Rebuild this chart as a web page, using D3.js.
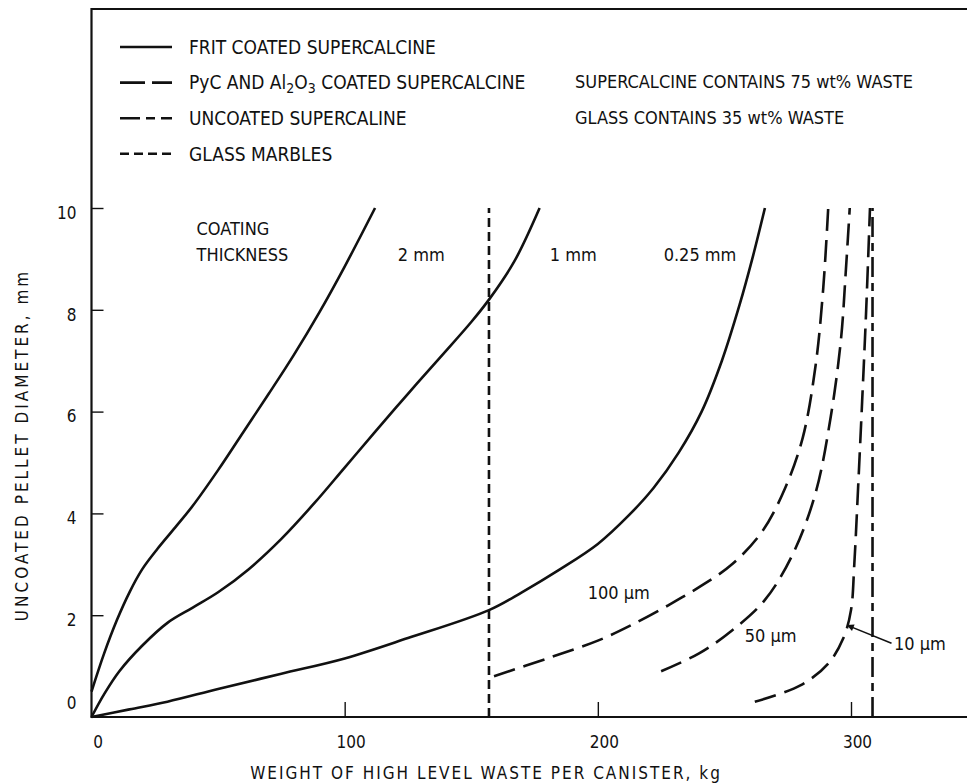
<!DOCTYPE html>
<html>
<head>
<meta charset="utf-8">
<script src="https://cdn.jsdelivr.net/npm/d3@7"></script>
<style>
  body { margin: 0; background: #fff; }
  svg text {
    font-family: "Liberation Sans Narrow", "DejaVu Sans Condensed", "Roboto Condensed", "Arial Narrow", sans-serif;
    fill: #111;
  }
</style>
</head>
<body>
<svg id="chart" width="967" height="784"></svg>
<script>
// ---- data (kg of waste, pellet diameter mm) ----
var xTicks = [0, 100, 200, 300];
var yTicks = [0, 2, 4, 6, 8, 10];

// frit coated supercalcine, by coating thickness
var frit2mm = [[0, 0.5], [5, 1.25], [10, 1.9], [15, 2.45], [20, 2.9], [26, 3.3], [33, 3.72], [40, 4.15],
  [50, 4.85], [60, 5.6], [70, 6.35], [80, 7.12], [90, 7.95], [100, 8.85], [112, 10]];
var frit1mm = [[0, 0], [5, 0.45], [11, 0.9], [20, 1.4], [30, 1.85], [40, 2.15], [50, 2.45], [62, 2.9],
  [75, 3.5], [88, 4.2], [100, 4.9], [112, 5.6], [125, 6.35], [138, 7.08], [150, 7.76], [157, 8.2],
  [167, 8.95], [177, 10]];
var frit025mm = [[0, 0], [15, 0.15], [30, 0.3], [50, 0.55], [75, 0.85], [100, 1.15], [125, 1.55],
  [157, 2.1], [170, 2.45], [185, 2.9], [200, 3.4], [212, 3.95], [222, 4.5], [232, 5.2], [241, 6.0],
  [249, 7.0], [256, 8.1], [261, 9.0], [266, 10]];

// PyC and Al2O3 coated supercalcine
var pyc100um = [[159, 0.8], [180, 1.15], [200, 1.5], [213, 1.8], [228, 2.2], [240, 2.55], [253, 3.0],
  [265, 3.65], [274, 4.5], [281, 5.5], [286, 6.9], [289, 8.4], [291, 10]];
var pyc50um = [[225, 0.9], [240, 1.25], [253, 1.7], [266, 2.3], [277, 3.2], [286, 4.4], [292, 5.9],
  [296, 7.4], [298, 8.8], [299.5, 10]];
var pyc10um = [[262, 0.3], [280, 0.62], [291, 1.05], [297, 1.55], [300, 2.1], [301.3, 3.0], [302.8, 4.5],
  [304.4, 6.2], [306, 8.0], [307.5, 10]];

// uncoated supercalcine and glass marbles (single values)
var uncoated = [[308.5, 0], [308.5, 10]];
var glass = [[157, 0], [157, 10]];

var legendNames = ["FRIT COATED SUPERCALCINE", "PyC AND Al2O3 COATED SUPERCALCINE", "UNCOATED SUPERCALINE", "GLASS MARBLES"];
var notes = ["SUPERCALCINE CONTAINS 75 wt% WASTE", "GLASS CONTAINS 35 wt% WASTE"];

// curve labels in data units
var curveLabels = [
  { t: "COATING", v: 41.5, d: 9.6 },
  { t: "THICKNESS", v: 41.5, d: 9.08 },
  { t: "2 mm", v: 121, d: 9.08 },
  { t: "1 mm", v: 181, d: 9.08 },
  { t: "0.25 mm", v: 226, d: 9.08 },
  { t: "100 \u00b5m", v: 196, d: 2.45 },
  { t: "50 \u00b5m", v: 258, d: 1.6 },
  { t: "10 \u00b5m", v: 317, d: 1.45 }
];

// ---- drawing ----
var svg = d3.select("#chart");
var W = 967;

var x = d3.scaleLinear().domain([0, 300]).range([91.5, 851]);
var y = d3.scaleLinear().domain([0, 10]).range([717, 208]);

var styles = {
  solid: null,
  pyc: "22,9",
  uncoated: "20,6,8,6",
  glass: "9,5"
};

// frame: left, top, bottom
svg.append("path")
  .attr("d", "M" + W + ",9 H" + x(0) + " V" + y(0) + " H" + W)
  .attr("fill", "none")
  .attr("stroke", "#111")
  .attr("stroke-width", 2.2);

// axes
var gx = svg.append("g")
  .attr("transform", "translate(0," + y(0) + ")")
  .call(d3.axisBottom(x).tickValues(xTicks).tickSize(-15).tickPadding(19).tickFormat(d3.format("d")));
gx.attr("font-family", null).attr("font-size", null);
gx.select(".domain").remove();
gx.selectAll(".tick line").attr("stroke", "#111").attr("stroke-width", 1.4)
  .filter(function(d) { return d === 0; }).remove();
gx.selectAll(".tick text").attr("dx", 6).style("font-size", "17px");

var gy = svg.append("g")
  .attr("transform", "translate(" + x(0) + ",0)")
  .call(d3.axisLeft(y).tickValues(yTicks).tickSize(-12).tickPadding(15).tickFormat(d3.format("d")));
gy.attr("font-family", null).attr("font-size", null);
gy.select(".domain").remove();
gy.selectAll(".tick line").attr("stroke", "#111").attr("stroke-width", 1.4)
  .filter(function(d) { return d === 0; }).remove();
gy.selectAll(".tick text")
  .style("font-size", "17px")
  .attr("dy", function(d) { return d === 0 ? "-0.5em" : "0.6em"; });

// axis titles
svg.append("text")
  .attr("x", 486).attr("y", 779)
  .attr("text-anchor", "middle")
  .style("font-size", "17px")
  .style("letter-spacing", "2px")
  .text("WEIGHT OF HIGH LEVEL WASTE PER CANISTER,  kg");

svg.append("text")
  .attr("transform", "translate(28,445) rotate(-90)")
  .attr("text-anchor", "middle")
  .style("font-size", "17px")
  .style("letter-spacing", "3px")
  .text("UNCOATED PELLET DIAMETER,  mm");

// curves
var line = d3.line()
  .x(function(d) { return x(d[0]); })
  .y(function(d) { return y(d[1]); })
  .curve(d3.curveCatmullRom.alpha(0.5));

var series = [
  { data: frit2mm, dash: styles.solid },
  { data: frit1mm, dash: styles.solid },
  { data: frit025mm, dash: styles.solid },
  { data: pyc100um, dash: styles.pyc },
  { data: pyc50um, dash: styles.pyc },
  { data: pyc10um, dash: styles.pyc },
  { data: uncoated, dash: styles.uncoated },
  { data: glass, dash: styles.glass }
];

svg.append("g").selectAll("path")
  .data(series)
  .enter()
  .append("path")
  .attr("d", function(d) { return line(d.data); })
  .attr("fill", "none")
  .attr("stroke", "#111")
  .attr("stroke-width", 2.6)
  .attr("stroke-dasharray", function(d) { return d.dash; });

// curve labels
svg.append("g").selectAll("text")
  .data(curveLabels)
  .enter()
  .append("text")
  .attr("x", function(d) { return x(d.v); })
  .attr("y", function(d) { return y(d.d); })
  .attr("dy", "0.36em")
  .style("font-size", "18px")
  .text(function(d) { return d.t; });

// arrow to the 10 um curve
svg.append("defs").append("marker")
  .attr("id", "arr")
  .attr("viewBox", "0 0 10 10")
  .attr("refX", 9).attr("refY", 5)
  .attr("markerWidth", 8).attr("markerHeight", 7)
  .attr("markerUnits", "userSpaceOnUse")
  .attr("orient", "auto")
  .append("path").attr("d", "M0,0 L10,5 L0,10 z").attr("fill", "#111");

svg.append("line")
  .attr("x1", x(316)).attr("y1", y(1.45))
  .attr("x2", x(298.6)).attr("y2", y(1.8))
  .attr("stroke", "#111").attr("stroke-width", 1.6)
  .attr("marker-end", "url(#arr)");

// legend
var legendDash = [styles.solid, "25,7,20", "20,6,9,6,11", "9,5,9,5,9,5,9"];
var legend = svg.append("g");
legendNames.forEach(function(name, i) {
  var ly = 47 + i * 35.6;
  legend.append("line")
    .attr("x1", 120).attr("x2", 172)
    .attr("y1", ly).attr("y2", ly)
    .attr("stroke", "#111").attr("stroke-width", 2.6)
    .attr("stroke-dasharray", legendDash[i]);
  var t = legend.append("text")
    .attr("x", 189).attr("y", ly).attr("dy", "0.36em")
    .style("font-size", "19px");
  if (name.indexOf("Al2O3") >= 0) {
    t.append("tspan").text("PyC AND Al");
    t.append("tspan").attr("dy", 4).style("font-size", "14px").text("2");
    t.append("tspan").attr("dy", -4).text("O");
    t.append("tspan").attr("dy", 4).style("font-size", "14px").text("3");
    t.append("tspan").attr("dy", -4).text(" COATED SUPERCALCINE");
  } else {
    t.text(name);
  }
});

notes.forEach(function(n, i) {
  svg.append("text")
    .attr("x", 575).attr("y", 82 + i * 35.6).attr("dy", "0.36em")
    .style("font-size", "18px")
    .text(n);
});
</script>
</body>
</html>
